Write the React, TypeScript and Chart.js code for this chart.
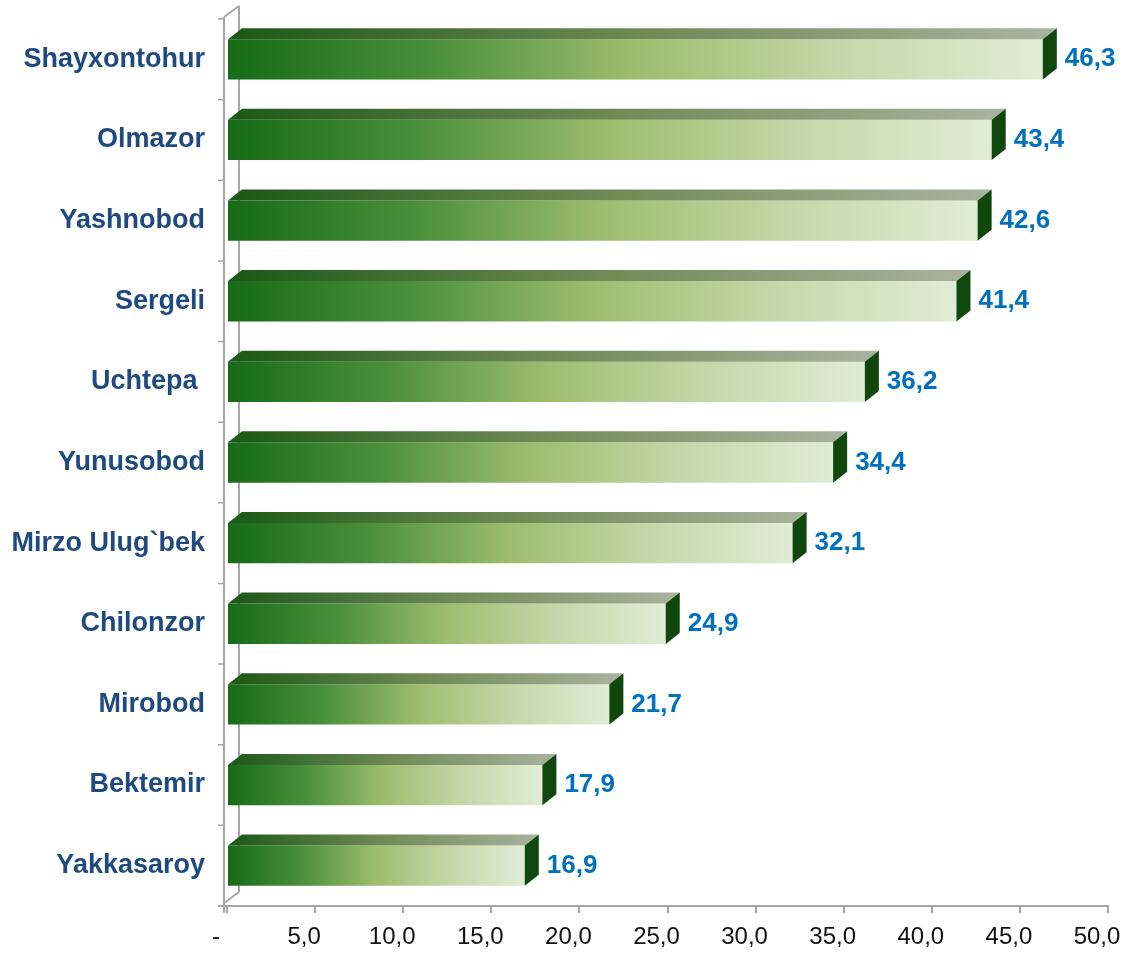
import React, { useEffect, useRef } from "react";
import { Chart, registerables } from "chart.js";

Chart.register(...registerables);

const categories = [
  "Shayxontohur",
  "Olmazor",
  "Yashnobod",
  "Sergeli",
  "Uchtepa ",
  "Yunusobod",
  "Mirzo Ulug`bek",
  "Chilonzor",
  "Mirobod",
  "Bektemir",
  "Yakkasaroy",
];
const values = [46.3, 43.4, 42.6, 41.4, 36.2, 34.4, 32.1, 24.9, 21.7, 17.9, 16.9];
const xMin = 0;
const xMax = 50;
const xStep = 5;

const FONT = '"Liberation Sans", Arial, sans-serif';
const DX = 14;
const DY = 11;

const fmt = (v: number) => (v === 0 ? "-" : v.toFixed(1).replace(".", ","));

const wallPlugin = {
  id: "wall3d",
  beforeDatasetsDraw(chart: any) {
    const { ctx, chartArea, scales } = chart;
    const ys = scales.y;
    const fx = chartArea.left - 3;
    const bx = fx + 15;
    const top = chartArea.top;
    const bottom = chartArea.bottom;
    ctx.save();
    ctx.strokeStyle = "#a6a6a6";
    ctx.lineWidth = 2;
    ctx.beginPath();
    ctx.moveTo(fx, top - 2);
    ctx.lineTo(fx, bottom + 7);
    ctx.moveTo(bx, top - 13);
    ctx.lineTo(bx, bottom - 14);
    ctx.moveTo(fx, top - 2);
    ctx.lineTo(bx, top - 13);
    ctx.moveTo(fx, bottom - 3);
    ctx.lineTo(bx, bottom - 14);
    ctx.moveTo(fx - 6, bottom);
    ctx.lineTo(chartArea.left + 1, bottom);
    ctx.stroke();
    ctx.lineWidth = 1.5;
    ctx.beginPath();
    const n = categories.length;
    const band = (ys.getPixelForValue(n - 1) - ys.getPixelForValue(0)) / (n - 1);
    for (let i = 0; i <= n; i++) {
      const yy = ys.getPixelForValue(0) - band / 2 + i * band;
      ctx.moveTo(fx - 6, yy);
      ctx.lineTo(fx, yy);
    }
    ctx.stroke();
    ctx.restore();
  },
  afterDatasetsDraw(chart: any) {
    const { ctx } = chart;
    const meta = chart.getDatasetMeta(0);
    ctx.save();
    meta.data.forEach((el: any, i: number) => {
      const { x, y, base, height } = el.getProps(["x", "y", "base", "height"], true);
      const t = y - height / 2;
      const b = y + height / 2;
      const g = ctx.createLinearGradient(base, 0, x + DX, 0);
      g.addColorStop(0, "#1b5816");
      g.addColorStop(0.5, "#6f8a55");
      g.addColorStop(1, "#a9b39f");
      ctx.fillStyle = g;
      ctx.beginPath();
      ctx.moveTo(base, t);
      ctx.lineTo(x, t);
      ctx.lineTo(x + DX, t - DY);
      ctx.lineTo(base + DX, t - DY);
      ctx.closePath();
      ctx.fill();
      ctx.fillStyle = "#0f470d";
      ctx.beginPath();
      ctx.moveTo(x, t);
      ctx.lineTo(x + DX, t - DY);
      ctx.lineTo(x + DX, b - DY);
      ctx.lineTo(x, b);
      ctx.closePath();
      ctx.fill();
      ctx.fillStyle = "#0070c0";
      ctx.font = `bold 26px ${FONT}`;
      ctx.textAlign = "left";
      ctx.textBaseline = "middle";
      ctx.fillText(fmt(values[i]), x + DX + 8, y);
    });
    ctx.restore();
  },
};

export default function App() {
  const ref = useRef<HTMLCanvasElement>(null);
  useEffect(() => {
    const canvas = ref.current!;
    const chart = new Chart(canvas, {
      type: "bar",
      data: {
        labels: categories,
        datasets: [
          {
            data: values,
            backgroundColor: (c: any) => {
              const ch = c.chart;
              const xs = ch.scales?.x;
              if (!xs || c.dataIndex === undefined || !ch.chartArea) return "#5a9a48";
              const x0 = xs.getPixelForValue(0);
              const x1 = xs.getPixelForValue(values[c.dataIndex]);
              if (!isFinite(x0) || !isFinite(x1)) return "#5a9a48";
              const g = ch.ctx.createLinearGradient(x0, 0, x1, 0);
              g.addColorStop(0, "#166b16");
              g.addColorStop(0.25, "#4a8f3b");
              g.addColorStop(0.5, "#9ebd6e");
              g.addColorStop(0.75, "#c3d8a9");
              g.addColorStop(1, "#e1ecd5");
              return g;
            },
            borderWidth: 0,
            categoryPercentage: 1,
            barPercentage: 0.5,
          },
        ],
      },
      options: {
        indexAxis: "y",
        responsive: false,
        animation: false,
        events: [],
        layout: { autoPadding: false, padding: { left: 0, right: 25, top: 19, bottom: 0 } },
        plugins: {
          legend: { display: false },
          tooltip: { enabled: false },
          title: { display: false },
        },
        scales: {
          x: {
            type: "linear",
            min: xMin,
            max: xMax,
            ticks: {
              stepSize: xStep,
              callback: (v: any) => fmt(Number(v)),
              color: "#111",
              font: { family: FONT, size: 24 },
              padding: 10,
              labelOffset: -11,
              maxRotation: 0,
              autoSkip: false,
            },
            grid: {
              drawOnChartArea: false,
              drawTicks: true,
              tickLength: 7,
              color: "#a6a6a6",
              lineWidth: 2,
            },
            border: { display: true, color: "#a6a6a6", width: 2 },
            afterFit: (s: any) => {
              s.height = 47;
              s.paddingLeft = 0;
              s.paddingRight = 0;
            },
          },
          y: {
            type: "category",
            ticks: {
              color: "#1f4a80",
              font: { family: FONT, size: 27, weight: "bold" },
              padding: 22,
              autoSkip: false,
            },
            grid: { display: false, drawTicks: false },
            border: { display: false },
            afterFit: (s: any) => {
              s.width = 227;
              s.paddingTop = 0;
              s.paddingBottom = 0;
            },
          },
        },
      },
      plugins: [wallPlugin],
    } as any);
    return () => chart.destroy();
  }, []);
  return (
    <div style={{ position: "absolute", left: 0, top: 0, width: 1133, height: 953, background: "#fff" }}>
      <canvas ref={ref} width={1133} height={953} />
    </div>
  );
}
